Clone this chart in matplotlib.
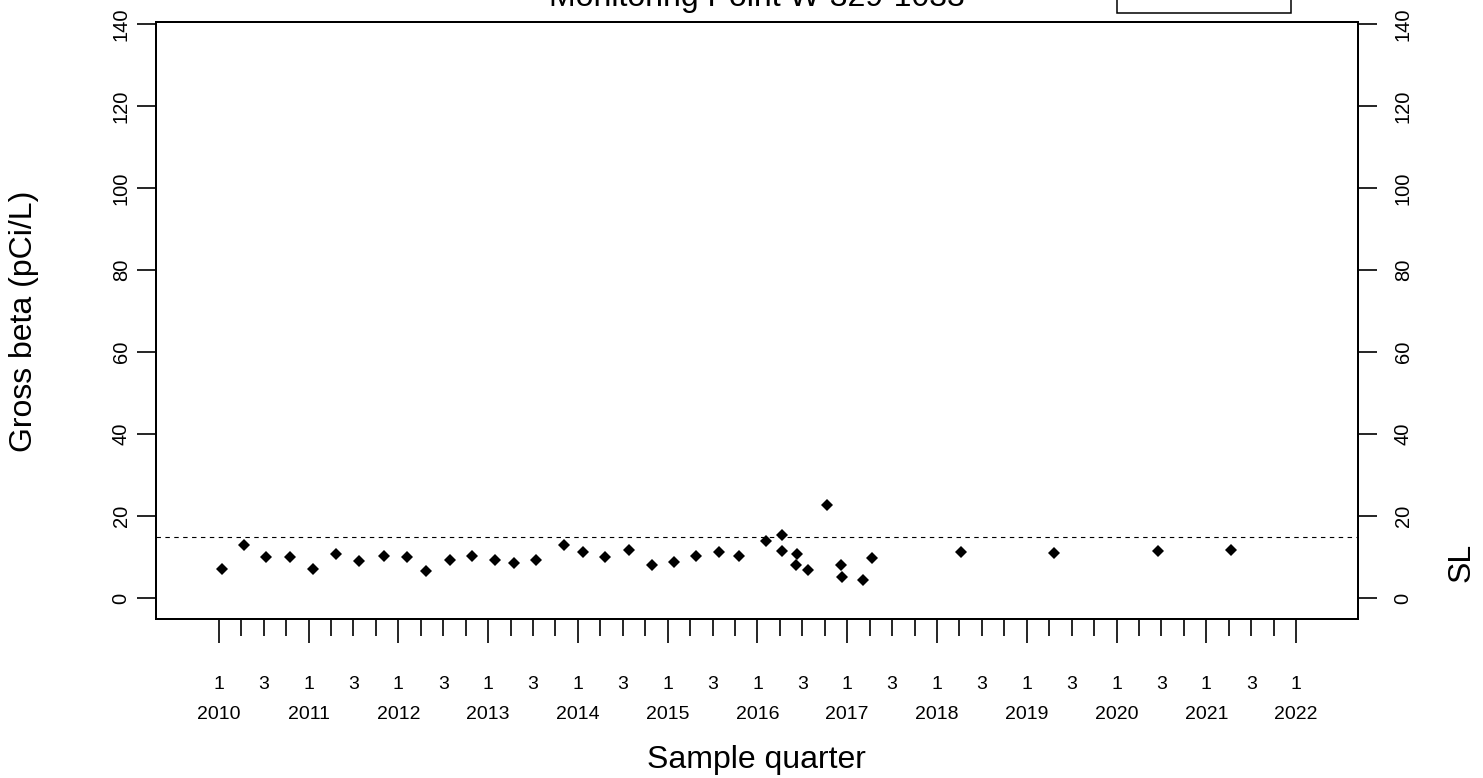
import matplotlib
matplotlib.use("Agg")
import matplotlib.pyplot as plt
from matplotlib.patches import Rectangle

plt.rcParams['font.family'] = ['Liberation Sans', 'DejaVu Sans']

# sample dates (decimal years) and gross beta results (pCi/L)
sample_time = [2010.03, 2010.28, 2010.52, 2010.79, 2011.05, 2011.30, 2011.56, 2011.84,
               2012.10, 2012.31, 2012.57, 2012.82, 2013.08, 2013.29, 2013.53, 2013.84,
               2014.06, 2014.30, 2014.57, 2014.83, 2015.07, 2015.32, 2015.57, 2015.79,
               2016.10, 2016.27, 2016.27, 2016.44, 2016.43, 2016.56, 2016.77, 2016.93,
               2016.94, 2017.18, 2017.28, 2018.27, 2019.30, 2020.46, 2021.28]
gross_beta = [7.0, 12.9, 9.9, 10.0, 7.1, 10.8, 9.0, 10.2,
              10.1, 6.5, 9.4, 10.3, 9.4, 8.5, 9.4, 12.9,
              11.2, 9.9, 11.8, 8.0, 8.9, 10.3, 11.3, 10.2,
              14.0, 15.5, 11.5, 10.8, 8.0, 6.8, 22.6, 8.1,
              5.1, 4.5, 9.7, 11.2, 11.1, 11.4, 11.8]
sl_value = 15
years = list(range(2010, 2023))
y_ticks = [0, 20, 40, 60, 80, 100, 120, 140]
title = "Monitoring Point W-329-1033"

fig = plt.figure(figsize=(14.83, 7.78), dpi=100)
ax = fig.add_axes([0.1052, 0.2044, 0.8105, 0.7673])

ax.plot(sample_time, gross_beta, 'D', ms=6, color='black', mew=0)
ax.axhline(sl_value, color='black', lw=0.8, ls=(0, (4, 4)))

ax.set_xlim(2009.30, 2022.69)
ax.set_ylim(-5.1, 140.5)

# quarter ticks: long at Q1, short otherwise; labels 1 and 3 plus the year
minor_pos = []
for y in years[:-1]:
    for q in (2, 3, 4):
        minor_pos.append(y + (q - 1) / 4)
ax.set_xticks(years, labels=[])
ax.set_xticks(minor_pos, labels=[], minor=True)
ax.tick_params(axis='x', which='major', length=17.3, width=1.2)
ax.tick_params(axis='x', which='minor', length=12.2, width=1.2)
xt = ax.get_xaxis_transform()
for y in years:
    ax.text(y, -0.109, "1", transform=xt, ha='center', va='center', fontsize=14)
    ax.text(y, -0.16, str(y), transform=xt, ha='center', va='center', fontsize=14)
    if y < years[-1]:
        ax.text(y + 0.5, -0.109, "3", transform=xt, ha='center', va='center', fontsize=14)

ax.set_yticks(y_ticks)
ax.tick_params(axis='y', length=13.7, width=1.2, pad=4.5, labelsize=14.5)
for lbl in ax.get_yticklabels():
    lbl.set_rotation(90)
    lbl.set_va('center')

ax2 = ax.twinx()
ax2.set_ylim(ax.get_ylim())
ax2.set_yticks(y_ticks)
ax2.tick_params(axis='y', length=13.7, width=1.2, pad=12, labelsize=14.5)
for lbl in ax2.get_yticklabels():
    lbl.set_rotation(90)
    lbl.set_va('center')

for a in (ax, ax2):
    for s in a.spines.values():
        s.set_linewidth(1.4)

fig.text(0.0162, 0.5873, "Gross beta (pCi/L)", rotation=90, ha='center', va='center', fontsize=23)
fig.text(0.5104, 0.0129, "Sample quarter", ha='center', va='baseline', fontsize=23)
fig.text(0.9855, 0.2776, "SL", rotation=90, ha='center', va='center', fontsize=23)
fig.text(0.5104, 0.9927, title, ha='center', va='baseline', fontsize=23)

# legend box, mostly above the visible area
fig.patches.append(Rectangle((0.7534, 0.9833), 0.1172, 0.05, transform=fig.transFigure,
                             facecolor='white', edgecolor='black', lw=1.1, clip_on=False))

fig.savefig("out.png", dpi=100)
